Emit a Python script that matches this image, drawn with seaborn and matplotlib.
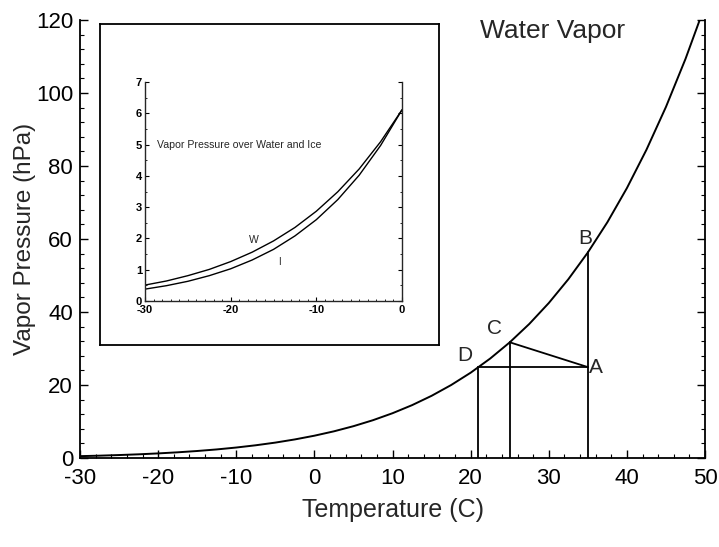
import pandas as pd
import matplotlib
matplotlib.use("Agg")
import matplotlib.pyplot as plt
from matplotlib.ticker import MultipleLocator
import seaborn as sns

# saturation vapour pressure (hPa)
temp = [-30, -27.5, -25, -22.5, -20, -17.5, -15, -12.5, -10, -7.5, -5, -2.5, 0,
        2.5, 5, 7.5, 10, 12.5, 15, 17.5, 20, 22.5, 25, 27.5, 30, 32.5, 35,
        37.5, 40, 42.5, 45, 47.5, 50]
e_water = [0.51, 0.64, 0.81, 1.01, 1.26, 1.56, 1.92, 2.35, 2.87, 3.49, 4.22, 5.09, 6.11,
           7.31, 8.72, 10.36, 12.27, 14.48, 17.04, 19.99, 23.37, 27.25, 31.68, 36.72, 42.46,
           48.97, 56.31, 64.60, 73.95, 84.45, 96.20, 109.35, 124.0]

# inset: water and ice, -30..0
temp_cold = [-30, -27.5, -25, -22.5, -20, -17.5, -15, -12.5, -10, -7.5, -5, -2.5, 0]
e_w_cold = [0.51, 0.64, 0.81, 1.01, 1.26, 1.56, 1.92, 2.35, 2.87, 3.49, 4.22, 5.09, 6.11]
e_ice = [0.38, 0.49, 0.63, 0.81, 1.03, 1.31, 1.65, 2.08, 2.60, 3.24, 4.02, 4.97, 6.11]

# labelled points
pts = {"A": (35, 24.9), "B": (35, 56.3), "C": (25, 31.7), "D": (21, 24.9)}

sns.set_style("ticks")
plt.rcParams['font.family'] = ['Liberation Sans', 'DejaVu Sans']
plt.rcParams['axes.unicode_minus'] = False

fig = plt.figure(figsize=(7.19, 5.47), dpi=100)
ax = fig.add_axes([0.1113, 0.1627, 0.8693, 0.8008])

main = pd.DataFrame({"T": temp, "e": e_water})
sns.lineplot(data=main, x="T", y="e", color="black", lw=1.4, ax=ax)

# construction lines
xa, ya = pts["A"]
xb, yb = pts["B"]
xc, yc = pts["C"]
xd, yd = pts["D"]
kw = dict(color="black", lw=1.3)
ax.plot([xb, xb], [0, yb], **kw)
ax.plot([xc, xc], [0, yc], **kw)
ax.plot([xd, xd], [0, yd], **kw)
ax.plot([xd, xa], [yd, ya], **kw)
ax.plot([xc, xa], [yc, ya], **kw)

ax.text(xb - 0.3, yb + 1.2, "B", fontsize=15, ha="center", va="bottom")
ax.text(xa + 0.2, ya, "A", fontsize=15, ha="left", va="center")
ax.text(xc - 2.0, yc + 1.2, "C", fontsize=15, ha="center", va="bottom")
ax.text(xd - 1.8, yd + 0.6, "D", fontsize=15, ha="center", va="bottom")
ax.text(30.5, 117, "Water Vapor", fontsize=19, ha="center", va="center")

ax.set_xlim(-30, 50)
ax.set_ylim(0, 120)
ax.xaxis.set_major_locator(MultipleLocator(10))
ax.xaxis.set_minor_locator(MultipleLocator(2))
ax.yaxis.set_major_locator(MultipleLocator(20))
ax.yaxis.set_minor_locator(MultipleLocator(4))
ax.tick_params(which="both", direction="in", right=True, labelsize=16, colors="black")
ax.tick_params(axis="x", pad=7)
ax.tick_params(axis="y", pad=5)
ax.tick_params(which="major", length=6, width=1)
ax.tick_params(which="minor", length=3, width=0.8)
ax.spines["top"].set_visible(False)
for s in ["left", "bottom", "right"]:
    ax.spines[s].set_linewidth(1.3)
    ax.spines[s].set_color("black")
ax.set_xlabel("Temperature (C)", fontsize=18, labelpad=7)
ax.set_ylabel("Vapor Pressure (hPa)", fontsize=17.5, labelpad=0)

# framed inset
frame = fig.add_axes([0.1391, 0.3693, 0.4715, 0.5869])
frame.set_xticks([])
frame.set_yticks([])
for s in frame.spines.values():
    s.set_linewidth(1.3)
    s.set_color("black")

ins = fig.add_axes([0.2017, 0.4497, 0.3574, 0.4004])
cold = pd.DataFrame({"T": temp_cold * 2, "e": e_w_cold + e_ice,
                     "phase": ["W"] * len(temp_cold) + ["I"] * len(temp_cold)})
sns.lineplot(data=cold, x="T", y="e", units="phase", estimator=None,
             color="black", lw=1.0, ax=ins)
ins.set_xlim(-30, 0)
ins.set_ylim(0, 7)
ins.xaxis.set_major_locator(MultipleLocator(10))
ins.xaxis.set_minor_locator(MultipleLocator(1))
ins.yaxis.set_major_locator(MultipleLocator(1))
ins.yaxis.set_minor_locator(MultipleLocator(0.5))
ins.tick_params(which="both", direction="in", right=True, labelsize=8, colors="black", pad=2)
ins.tick_params(axis="x", pad=3)
ins.tick_params(which="major", length=3, width=0.8)
ins.tick_params(which="minor", length=1.5, width=0.6)
for lbl in ins.get_xticklabels() + ins.get_yticklabels():
    lbl.set_fontweight("bold")
ins.spines["top"].set_visible(False)
for s in ["left", "bottom", "right"]:
    ins.spines[s].set_linewidth(1.0)
ins.set_xlabel("")
ins.set_ylabel("")
ins.text(-28.6, 5, "Vapor Pressure over Water and Ice", fontsize=7.6,
         ha="left", va="center")
ins.text(-17.3, 1.95, "W", fontsize=7.5, ha="center", va="center")
ins.text(-14.3, 1.25, "I", fontsize=7, ha="center", va="center")

fig.savefig("out.png", dpi=100)
